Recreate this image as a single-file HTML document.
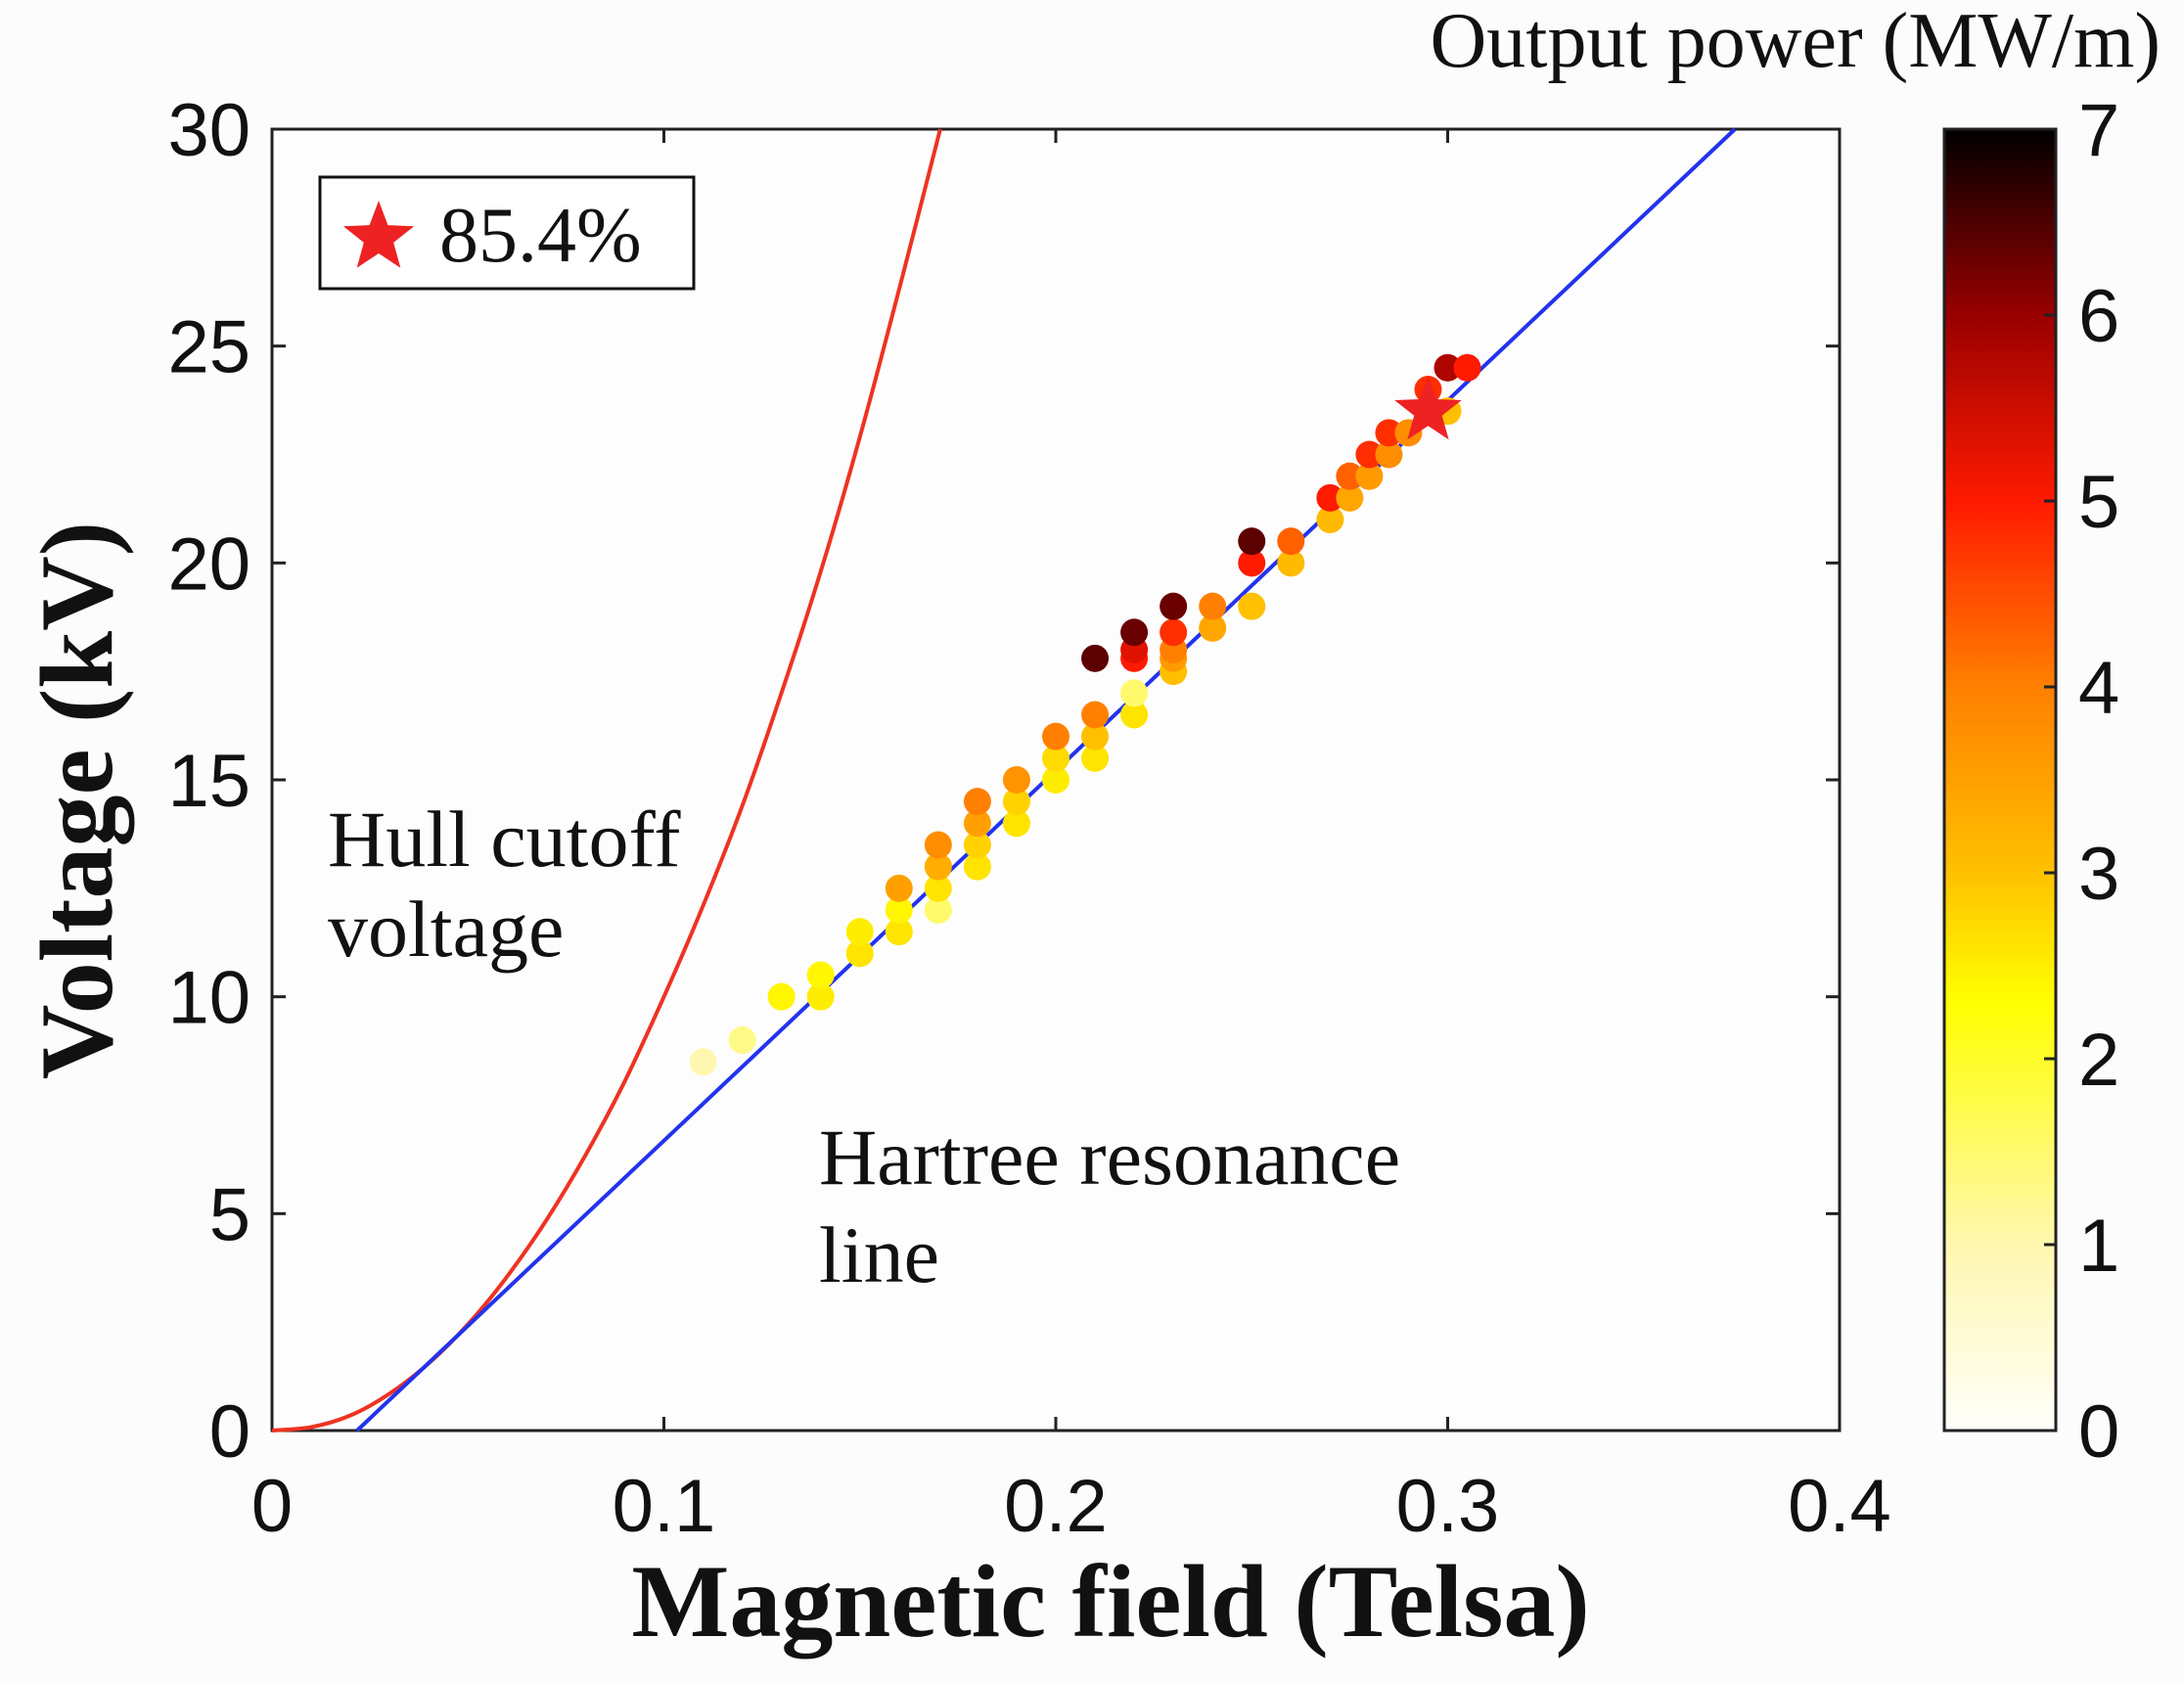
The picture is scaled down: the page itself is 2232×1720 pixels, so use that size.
<!DOCTYPE html>
<html><head><meta charset="utf-8">
<style>
html,body{margin:0;padding:0;background:#fcfcfc;}
svg{display:block;}
</style></head>
<body>
<svg id="chart" width="2232" height="1720" viewBox="0 0 2232 1720" xmlns="http://www.w3.org/2000/svg">
<defs>
<linearGradient id="hotgrad" x1="0" y1="1" x2="0" y2="0">
<stop offset="0" stop-color="#fffffa"/>
<stop offset="0.143" stop-color="#fff7b0"/>
<stop offset="0.33" stop-color="#ffff00"/>
<stop offset="0.43" stop-color="#ffc000"/>
<stop offset="0.571" stop-color="#ff8000"/>
<stop offset="0.714" stop-color="#ff1a00"/>
<stop offset="0.857" stop-color="#990000"/>
<stop offset="1" stop-color="#000000"/>
</linearGradient>
</defs>
<g id="plot"></g>
</svg>
<script>
const xTicks = [0, 0.1, 0.2, 0.3, 0.4];
const xTickLabels = ["0", "0.1", "0.2", "0.3", "0.4"];
const yTicks = [0, 5, 10, 15, 20, 25, 30];
const yTickLabels = ["0", "5", "10", "15", "20", "25", "30"];
const cTicks = [0, 1, 2, 3, 4, 5, 6, 7];
const cTickLabels = ["0", "1", "2", "3", "4", "5", "6", "7"];
const hartreeB = [0.0217, 0.3733];
const hartreeV = [0, 30];
const hullB = [0, 0.01, 0.02, 0.03, 0.04, 0.05, 0.06, 0.07, 0.08, 0.09, 0.10, 0.11, 0.12, 0.13, 0.14, 0.15, 0.16, 0.1705];
const hullV = [0, 0.08, 0.35, 0.85, 1.55, 2.45, 3.55, 4.85, 6.35, 8.05, 10.0, 12.1, 14.4, 17.0, 19.8, 22.9, 26.3, 30];
const ptB = [0.11,0.12,0.13,0.14,0.14,0.15,0.15,0.16,0.16,0.16,0.17,0.17,0.17,0.17,0.18,0.18,0.18,0.18,0.19,0.19,0.19,0.20,0.20,0.20,0.21,0.21,0.21,0.21,0.22,0.22,0.22,0.22,0.22,0.23,0.23,0.23,0.23,0.23,0.24,0.24,0.25,0.25,0.25,0.26,0.26,0.27,0.27,0.275,0.275,0.28,0.28,0.285,0.285,0.29,0.30,0.295,0.30,0.305];
const ptV = [8.5,9.0,10.0,10.0,10.5,11.0,11.5,11.5,12.0,12.5,12.0,12.5,13.0,13.5,13.0,13.5,14.0,14.5,14.0,14.5,15.0,15.0,15.5,16.0,15.5,16.0,16.5,17.8,16.5,17.0,17.8,18.0,18.4,17.5,17.8,18.0,18.4,19.0,18.5,19.0,19.0,20.0,20.5,20.0,20.5,21.0,21.5,21.5,22.0,22.0,22.5,22.5,23.0,23.0,23.5,24.0,24.5,24.5];
const ptP = [1.0,1.3,2.4,2.5,2.4,2.6,2.5,2.6,2.4,3.5,1.5,2.6,3.3,3.8,2.6,2.8,3.5,4.0,2.6,2.8,3.7,2.5,2.7,4.0,2.6,3.0,4.0,6.4,2.6,1.5,5.0,5.3,6.3,3.0,3.6,4.0,4.8,6.3,3.4,4.0,3.0,5.0,6.4,3.1,4.3,3.1,5.0,3.4,4.3,3.6,4.8,3.8,4.8,3.8,3.0,4.8,5.8,5.0];
const starB = [0.295];
const starV = [23.5];
const starLabel = ["85.4%"];

const NS = "http://www.w3.org/2000/svg";
const L = 278, R = 1880, T = 132, B = 1462;
const xMax = 0.4, yMax = 30, cMax = 7;
const CL = 1987, CR = 2101;
const cmapV = [0, 1, 2.3, 3, 4, 5, 6, 7];
const cmapC = [[255,255,250],[255,247,176],[255,255,0],[255,192,0],[255,128,0],[255,26,0],[153,0,0],[0,0,0]];
function sx(v){ return L + v / xMax * (R - L); }
function sy(v){ return B - v / yMax * (B - T); }
function cy(v){ return B - v / cMax * (B - T); }
function cmap(p){
  p = Math.max(0, Math.min(cMax, p));
  let i = 0;
  while (i < cmapV.length - 2 && p > cmapV[i + 1]) i++;
  const f = (p - cmapV[i]) / (cmapV[i + 1] - cmapV[i]);
  const c = cmapC[i].map((a, k) => Math.round(a + (cmapC[i + 1][k] - a) * f));
  return `rgb(${c[0]},${c[1]},${c[2]})`;
}
function mk(tag, attrs, parent, text){
  const e = document.createElementNS(NS, tag);
  for (const k in attrs) e.setAttribute(k, attrs[k]);
  if (text !== undefined) e.textContent = text;
  parent.appendChild(e);
  return e;
}
const g = document.getElementById('plot');

let box = mk('rect', {x: L, y: T, width: R - L, height: B - T, fill: '#fdfdfd', stroke: '#222', 'stroke-width': 3}, g);



xTicks.forEach((v, i) => {
  const x = sx(v);
  let t1 = mk('line', {x1: x, y1: B, x2: x, y2: B - 14, stroke: '#222', 'stroke-width': 3}, g);
  
  
  let t2 = mk('line', {x1: x, y1: T, x2: x, y2: T + 14, stroke: '#222', 'stroke-width': 3}, g);
  
  
  let lb = mk('text', {x: x, y: 1565, 'text-anchor': 'middle', 'font-family': 'Liberation Sans, sans-serif', 'font-size': 76, fill: '#111'}, g, xTickLabels[i]);
  
  
});
yTicks.forEach((v, i) => {
  const y = sy(v);
  let t1 = mk('line', {x1: L, y1: y, x2: L + 14, y2: y, stroke: '#222', 'stroke-width': 3}, g);
  
  
  let t2 = mk('line', {x1: R, y1: y, x2: R - 14, y2: y, stroke: '#222', 'stroke-width': 3}, g);
  
  
  let lb = mk('text', {x: 256, y: y + 27, 'text-anchor': 'end', 'font-family': 'Liberation Sans, sans-serif', 'font-size': 76, fill: '#111'}, g, yTickLabels[i]);
  
  
});

const hp = hullB.map((b, i) => [sx(b), sy(hullV[i])]);
let hd = 'M' + hp[0][0].toFixed(1) + ',' + hp[0][1].toFixed(1);
for (let i = 0; i < hp.length - 1; i++) {
  const p0 = hp[Math.max(0, i - 1)], p1 = hp[i], p2 = hp[i + 1], p3 = hp[Math.min(hp.length - 1, i + 2)];
  const c1x = p1[0] + (p2[0] - p0[0]) / 6, c1y = p1[1] + (p2[1] - p0[1]) / 6;
  const c2x = p2[0] - (p3[0] - p1[0]) / 6, c2y = p2[1] - (p3[1] - p1[1]) / 6;
  hd += ' C' + c1x.toFixed(1) + ',' + c1y.toFixed(1) + ' ' + c2x.toFixed(1) + ',' + c2y.toFixed(1) + ' ' + p2[0].toFixed(1) + ',' + p2[1].toFixed(1);
}
let hull = mk('path', {d: hd, fill: 'none', stroke: '#ee3322', 'stroke-width': 4, 'stroke-linejoin': 'round'}, g);



let hl = mk('line', {x1: sx(hartreeB[0]), y1: sy(hartreeV[0]), x2: sx(hartreeB[1]), y2: sy(hartreeV[1]), stroke: '#2233ee', 'stroke-width': 4}, g);



ptB.forEach((b, i) => {
  let c = mk('circle', {cx: sx(b), cy: sy(ptV[i]), r: 14, fill: cmap(ptP[i])}, g);
  
  
});

function starPath(cx, cy, ro, ri){
  let d = '';
  for (let k = 0; k < 10; k++){
    const a = -Math.PI / 2 + k * Math.PI / 5, r = k % 2 ? ri : ro;
    d += (k ? 'L' : 'M') + (cx + r * Math.cos(a)).toFixed(1) + ',' + (cy + r * Math.sin(a)).toFixed(1);
  }
  return d + 'Z';
}
let st = mk('path', {d: starPath(sx(starB[0]), sy(starV[0]), 36, 15), fill: '#ee2222'}, g);



let lg = mk('rect', {x: 327, y: 181, width: 382, height: 114, fill: '#fff', stroke: '#111', 'stroke-width': 3}, g);


let ls = mk('path', {d: starPath(387, 243, 38, 16), fill: '#ee2222'}, g);


let lt = mk('text', {x: 449, y: 267, 'font-family': 'Liberation Serif, serif', 'font-size': 80, fill: '#111'}, g, starLabel[0]);



[['Hull cutoff', 335, 885, 'hull-annotation-line1'], ['voltage', 335, 977, 'hull-annotation-line2'], ['Hartree resonance', 837, 1210, 'hartree-annotation-line1'], ['line', 837, 1310, 'hartree-annotation-line2']].forEach(a => {
  let t = mk('text', {x: a[1], y: a[2], 'font-family': 'Liberation Serif, serif', 'font-size': 82, fill: '#111'}, g, a[0]);
  
  
});

let xt = mk('text', {x: 1135, y: 1672, 'text-anchor': 'middle', 'font-family': 'Liberation Serif, serif', 'font-weight': 'bold', 'font-size': 106, fill: '#111'}, g, 'Magnetic field (Telsa)');


let yt = mk('text', {x: 0, y: 0, 'text-anchor': 'middle', transform: 'translate(114,818) rotate(-90)', 'font-family': 'Liberation Serif, serif', 'font-weight': 'bold', 'font-size': 106, fill: '#111'}, g, 'Voltage (kV)');



let cb = mk('rect', {x: CL, y: T, width: CR - CL, height: B - T, fill: 'url(#hotgrad)', stroke: '#222', 'stroke-width': 3}, g);


cTicks.forEach((v, i) => {
  const y = cy(v);
  let t = mk('line', {x1: CR, y1: y, x2: CR - 12, y2: y, stroke: '#222', 'stroke-width': 3}, g);
  
  
  let lb = mk('text', {x: 2124, y: y + 27, 'font-family': 'Liberation Sans, sans-serif', 'font-size': 76, fill: '#111'}, g, cTickLabels[i]);
  
  
});
let ct = mk('text', {x: 2208, y: 68, 'text-anchor': 'end', 'font-family': 'Liberation Serif, serif', 'font-size': 80, fill: '#111'}, g, 'Output power (MW/m)');


</script>
</body></html>
